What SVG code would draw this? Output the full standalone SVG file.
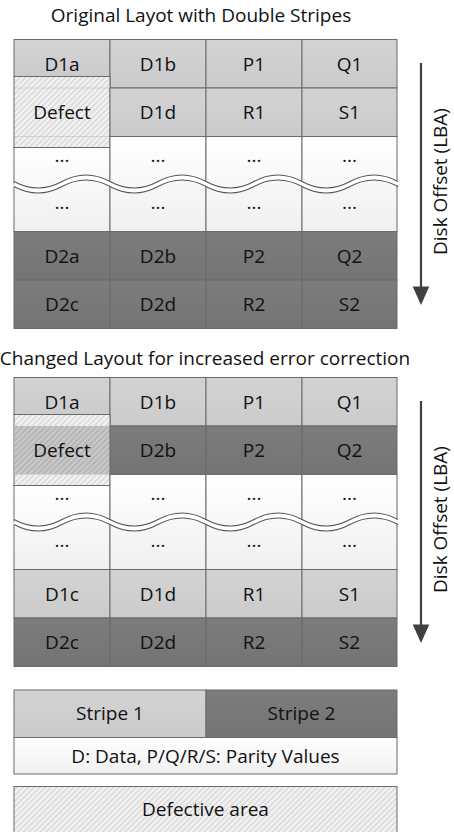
<svg xmlns="http://www.w3.org/2000/svg" width="454" height="832" viewBox="0 0 454 832">
  <defs>
    <style>
      text { font-family: "Open Sans", "Liberation Sans", sans-serif; font-size: 19px; fill: #111; }
      .c { text-anchor: middle; }
      .cell { stroke: #6b6b6b; stroke-width: 1; }
      .light { fill: url(#gLight); }
      .dark { fill: url(#gDark); }
      .blank { fill: url(#gBlank); }
      .hatch { fill: url(#hatchLight); }
      .hatchDark { fill: url(#hatchDark); }
      .faint { stroke: #c4c4c4; stroke-width: 1; }
      .waveBg { fill: none; stroke: #ffffff; stroke-width: 5; }
      .wave { fill: none; stroke: #555; stroke-width: 1.1; }
      .axis { stroke: #404040; stroke-width: 2.2; }
      .head { fill: #404040; }
    </style>
    <linearGradient id="gLight" x1="0" y1="0" x2="0" y2="1">
      <stop offset="0" stop-color="#d3d3d3"/>
      <stop offset="1" stop-color="#cbcbcb"/>
    </linearGradient>
    <linearGradient id="gDark" x1="0" y1="0" x2="0" y2="1">
      <stop offset="0" stop-color="#7c7c7c"/>
      <stop offset="1" stop-color="#747474"/>
    </linearGradient>
    <linearGradient id="gBlank" x1="0" y1="0" x2="0" y2="1">
      <stop offset="0" stop-color="#ffffff"/>
      <stop offset="1" stop-color="#f0f0f0"/>
    </linearGradient>
    <pattern id="hatchLight" patternUnits="userSpaceOnUse" width="4" height="4" patternTransform="rotate(45)">
      <rect width="4" height="4" fill="#f3f3f3"/>
      <rect width="1.6" height="4" fill="#d9d9d9"/>
    </pattern>
    <pattern id="hatchDark" patternUnits="userSpaceOnUse" width="4" height="4" patternTransform="rotate(45)">
      <rect width="4" height="4" fill="#b6b6b6"/>
      <rect width="1.6" height="4" fill="#cdcdcd"/>
    </pattern>
    <!-- torn-row break drawn across the blank rows -->
    <path id="waveLine" d="M14,0 Q38,13 62,0 T110,0 T158,0 T206,0 T254,0 T302,0 T350,0 T398,0"/>
  </defs>

  <!-- ===== Original layout ===== -->
  <text class="c" x="201" y="21.5">Original Layot with Double Stripes</text>

  <g id="layout-original">
    <g id="o-d1a"><rect class="cell light" x="14" y="39.5" width="96" height="37"/><text class="c" x="62" y="70.5">D1a</text></g>
    <g id="o-d1b"><rect class="cell light" x="110" y="39.5" width="96" height="48.5"/><text class="c" x="158" y="70.5">D1b</text></g>
    <g id="o-p1"><rect class="cell light" x="206" y="39.5" width="96" height="48.5"/><text class="c" x="254" y="70.5">P1</text></g>
    <g id="o-q1"><rect class="cell light" x="302" y="39.5" width="95" height="48.5"/><text class="c" x="349.5" y="70.5">Q1</text></g>

    <g id="o-defect">
      <rect class="cell hatch" x="14" y="76.5" width="96" height="71"/>
      <line class="faint" x1="14.5" y1="88" x2="109.5" y2="88" stroke-dasharray="2 1"/>
      <line class="faint" x1="14.5" y1="136.5" x2="109.5" y2="136.5" stroke-dasharray="2 1"/>
      <text class="c" x="62" y="118.5">Defect</text>
    </g>
    <g id="o-d1d"><rect class="cell light" x="110" y="88" width="96" height="48.5"/><text class="c" x="158" y="119">D1d</text></g>
    <g id="o-r1"><rect class="cell light" x="206" y="88" width="96" height="48.5"/><text class="c" x="254" y="119">R1</text></g>
    <g id="o-s1"><rect class="cell light" x="302" y="88" width="95" height="48.5"/><text class="c" x="349.5" y="119">S1</text></g>

    <g id="o-gap">
      <rect class="cell blank" x="14" y="147.5" width="96" height="84"/>
      <rect class="cell blank" x="110" y="136.5" width="96" height="95"/>
      <rect class="cell blank" x="206" y="136.5" width="96" height="95"/>
      <rect class="cell blank" x="302" y="136.5" width="95" height="95"/>
      <text class="c" x="62" y="162">...</text>
      <text class="c" x="158" y="162">...</text>
      <text class="c" x="254" y="162">...</text>
      <text class="c" x="349.5" y="162">...</text>
      <text class="c" x="62" y="209">...</text>
      <text class="c" x="158" y="209">...</text>
      <text class="c" x="254" y="209">...</text>
      <text class="c" x="349.5" y="209">...</text>
      <g transform="translate(0,184)">
        <use href="#waveLine" class="waveBg"/>
        <use href="#waveLine" class="wave" transform="translate(0,-2.5)"/>
        <use href="#waveLine" class="wave" transform="translate(0,2.5)"/>
      </g>
    </g>

    <g id="o-d2a"><rect class="cell dark" x="14" y="231.5" width="96" height="48.5"/><text class="c" x="62" y="262.5">D2a</text></g>
    <g id="o-d2b"><rect class="cell dark" x="110" y="231.5" width="96" height="48.5"/><text class="c" x="158" y="262.5">D2b</text></g>
    <g id="o-p2"><rect class="cell dark" x="206" y="231.5" width="96" height="48.5"/><text class="c" x="254" y="262.5">P2</text></g>
    <g id="o-q2"><rect class="cell dark" x="302" y="231.5" width="95" height="48.5"/><text class="c" x="349.5" y="262.5">Q2</text></g>
    <g id="o-d2c"><rect class="cell dark" x="14" y="280" width="96" height="48.5"/><text class="c" x="62" y="311">D2c</text></g>
    <g id="o-d2d"><rect class="cell dark" x="110" y="280" width="96" height="48.5"/><text class="c" x="158" y="311">D2d</text></g>
    <g id="o-r2"><rect class="cell dark" x="206" y="280" width="96" height="48.5"/><text class="c" x="254" y="311">R2</text></g>
    <g id="o-s2"><rect class="cell dark" x="302" y="280" width="95" height="48.5"/><text class="c" x="349.5" y="311">S2</text></g>
  </g>

  <g id="connectors">
    <g id="o-axis">
      <line class="axis" x1="421" y1="63" x2="421" y2="290"/>
      <polygon class="head" points="412.7,286.5 429.3,286.5 421,305"/>
    </g>
    <g id="c-axis">
      <line class="axis" x1="421" y1="401" x2="421" y2="628"/>
      <polygon class="head" points="412.7,624.5 429.3,624.5 421,643"/>
    </g>
  </g>
  <text class="c" transform="translate(447,181.5) rotate(-90)">Disk Offset (LBA)</text>
  <text class="c" transform="translate(447,519.5) rotate(-90)">Disk Offset (LBA)</text>

  <!-- ===== Changed layout ===== -->
  <text class="c" x="205" y="365">Changed Layout for increased error correction</text>

  <g id="layout-changed" transform="translate(0,338)">
    <g id="c-d1a"><rect class="cell light" x="14" y="39.5" width="96" height="37"/><text class="c" x="62" y="70.5">D1a</text></g>
    <g id="c-d1b"><rect class="cell light" x="110" y="39.5" width="96" height="48.5"/><text class="c" x="158" y="70.5">D1b</text></g>
    <g id="c-p1"><rect class="cell light" x="206" y="39.5" width="96" height="48.5"/><text class="c" x="254" y="70.5">P1</text></g>
    <g id="c-q1"><rect class="cell light" x="302" y="39.5" width="95" height="48.5"/><text class="c" x="349.5" y="70.5">Q1</text></g>

    <g id="c-defect">
      <rect class="cell hatch" x="14" y="76.5" width="96" height="71"/>
      <rect class="hatchDark" x="14.5" y="88" width="95" height="48.5"/>
      <text class="c" x="62" y="118.5">Defect</text>
    </g>
    <g id="c-d2b"><rect class="cell dark" x="110" y="88" width="96" height="48.5"/><text class="c" x="158" y="119">D2b</text></g>
    <g id="c-p2"><rect class="cell dark" x="206" y="88" width="96" height="48.5"/><text class="c" x="254" y="119">P2</text></g>
    <g id="c-q2"><rect class="cell dark" x="302" y="88" width="95" height="48.5"/><text class="c" x="349.5" y="119">Q2</text></g>

    <g id="c-gap">
      <rect class="cell blank" x="14" y="147.5" width="96" height="84"/>
      <rect class="cell blank" x="110" y="136.5" width="96" height="95"/>
      <rect class="cell blank" x="206" y="136.5" width="96" height="95"/>
      <rect class="cell blank" x="302" y="136.5" width="95" height="95"/>
      <text class="c" x="62" y="162">...</text>
      <text class="c" x="158" y="162">...</text>
      <text class="c" x="254" y="162">...</text>
      <text class="c" x="349.5" y="162">...</text>
      <text class="c" x="62" y="209">...</text>
      <text class="c" x="158" y="209">...</text>
      <text class="c" x="254" y="209">...</text>
      <text class="c" x="349.5" y="209">...</text>
      <g transform="translate(0,184)">
        <use href="#waveLine" class="waveBg"/>
        <use href="#waveLine" class="wave" transform="translate(0,-2.5)"/>
        <use href="#waveLine" class="wave" transform="translate(0,2.5)"/>
      </g>
    </g>

    <g id="c-d1c"><rect class="cell light" x="14" y="231.5" width="96" height="48.5"/><text class="c" x="62" y="262.5">D1c</text></g>
    <g id="c-d1d"><rect class="cell light" x="110" y="231.5" width="96" height="48.5"/><text class="c" x="158" y="262.5">D1d</text></g>
    <g id="c-r1"><rect class="cell light" x="206" y="231.5" width="96" height="48.5"/><text class="c" x="254" y="262.5">R1</text></g>
    <g id="c-s1"><rect class="cell light" x="302" y="231.5" width="95" height="48.5"/><text class="c" x="349.5" y="262.5">S1</text></g>
    <g id="c-d2c"><rect class="cell dark" x="14" y="280" width="96" height="48.5"/><text class="c" x="62" y="311">D2c</text></g>
    <g id="c-d2d"><rect class="cell dark" x="110" y="280" width="96" height="48.5"/><text class="c" x="158" y="311">D2d</text></g>
    <g id="c-r2"><rect class="cell dark" x="206" y="280" width="96" height="48.5"/><text class="c" x="254" y="311">R2</text></g>
    <g id="c-s2"><rect class="cell dark" x="302" y="280" width="95" height="48.5"/><text class="c" x="349.5" y="311">S2</text></g>
  </g>

  <!-- ===== Legend ===== -->
  <g id="legend-stripe1"><rect class="cell light" x="14" y="690" width="192" height="47.5"/><text class="c" x="110" y="720">Stripe 1</text></g>
  <g id="legend-stripe2"><rect class="cell dark" x="206" y="690" width="191" height="47.5"/><text class="c" x="301.5" y="720">Stripe 2</text></g>
  <g id="legend-key"><rect class="cell blank" x="14" y="737.5" width="383" height="36.5"/><text class="c" x="205.5" y="762.5">D: Data, P/Q/R/S: Parity Values</text></g>
  <g id="legend-defective"><rect class="cell hatch" x="14" y="786.5" width="383" height="50"/><text class="c" x="205.5" y="816">Defective area</text></g>
</svg>
